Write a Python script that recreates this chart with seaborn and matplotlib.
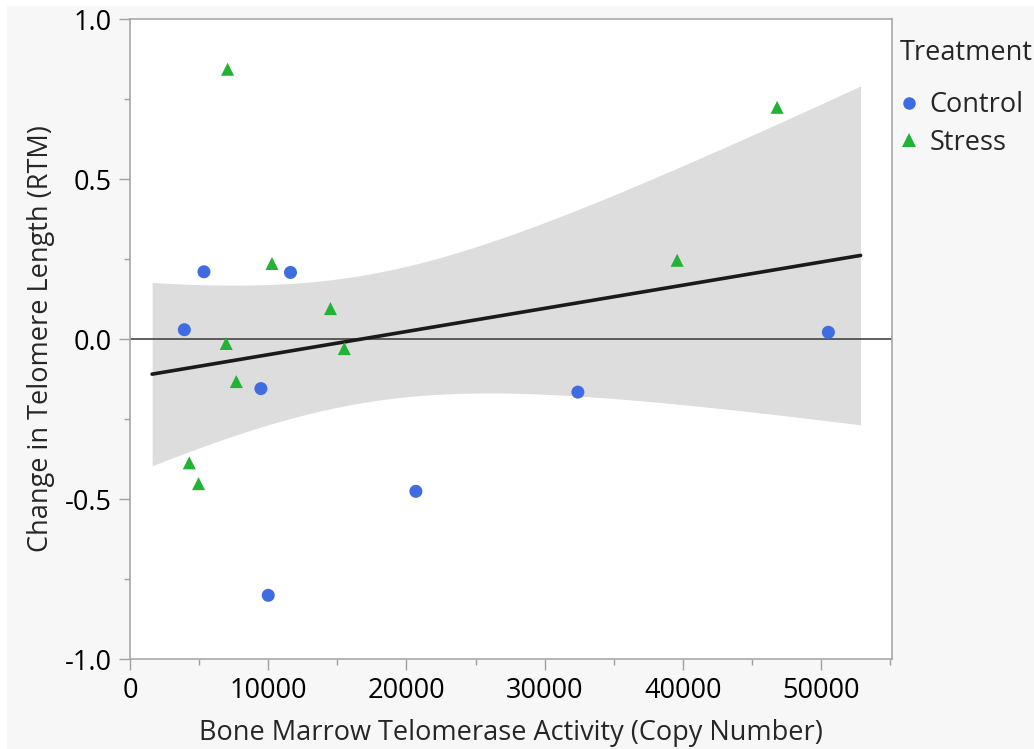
import numpy as np
import pandas as pd
import matplotlib
matplotlib.use("Agg")
import matplotlib.pyplot as plt
from matplotlib.lines import Line2D
from matplotlib.patches import Rectangle
import seaborn as sns

# ---- data ----
control_x = [3930, 5350, 11610, 9470, 10000, 20680, 32400, 50520]
control_y = [0.029, 0.210, 0.208, -0.155, -0.801, -0.476, -0.166, 0.021]
stress_x = [7060, 10270, 14500, 6960, 15500, 7690, 4290, 4960, 39580, 46810]
stress_y = [0.843, 0.236, 0.095, -0.014, -0.030, -0.133, -0.387, -0.452, 0.246, 0.724]
groups = ["Control", "Stress"]
x_ticks = [0, 10000, 20000, 30000, 40000, 50000]
y_ticks = [-1.0, -0.5, 0.0, 0.5, 1.0]

df = pd.DataFrame({
    "x": control_x + stress_x,
    "y": control_y + stress_y,
    "Treatment": ["Control"] * len(control_x) + ["Stress"] * len(stress_x),
})

sns.set_style("white")
plt.rcParams["font.family"] = ["Open Sans", "DejaVu Sans"]

BLUE = "#3F6CE0"
GREEN = "#21B334"
BG = "#F7F7F7"
FS = 19.5

fig = plt.figure(figsize=(10.34, 7.49), dpi=100)
fig.patch.set_facecolor("white")
fig.patches.append(Rectangle((7 / 1034, 0), 1, 1 - 6 / 749, transform=fig.transFigure,
                             facecolor=BG, edgecolor="none", zorder=-10))
ax = fig.add_axes([130 / 1034, 1 - 659 / 749, (891.7 - 130) / 1034, (659 - 19) / 749])
ax.set_facecolor("white")

# ---- linear fit with 95% confidence band over all points ----
X = df["x"].to_numpy(float)
Y = df["y"].to_numpy(float)
n = len(X)
slope, intercept = np.polyfit(X, Y, 1)
resid = Y - (slope * X + intercept)
s = np.sqrt(np.sum(resid ** 2) / (n - 2))
xbar = X.mean()
sxx = np.sum((X - xbar) ** 2)
pad = 0.05 * (X.max() - X.min())
xs = np.linspace(X.min() - pad, X.max() + pad, 200)
ys = slope * xs + intercept
t = 2.120  # t(0.975, df=16)
half = t * s * np.sqrt(1 / n + (xs - xbar) ** 2 / sxx)
ax.fill_between(xs, ys - half, ys + half, color="#DDDDDD", lw=0, zorder=1)
ax.axhline(0, color="#444444", lw=1.2, zorder=2)
ax.plot(xs, ys, color="#1a1a1a", lw=2.6, zorder=3)

sns.scatterplot(data=df, x="x", y="y", hue="Treatment", style="Treatment",
                palette={"Control": BLUE, "Stress": GREEN},
                markers={"Control": "o", "Stress": "^"},
                s=88, linewidth=0, legend=False, ax=ax, zorder=4)

ax.set_xlim(0, 55100)
ax.set_ylim(-1.0, 1.0)
ax.set_xticks(x_ticks)
ax.set_xticklabels([str(v) for v in x_ticks])
ax.set_yticks(y_ticks)
ax.set_yticklabels([f"{v:.1f}" for v in y_ticks])
ax.set_xticks(np.arange(5000, 55100, 10000), minor=True)
ax.set_yticks([-0.75, -0.25, 0.25, 0.75], minor=True)
ax.tick_params(axis="both", which="major", direction="out", length=8, width=1,
               color="#A0A0A0", labelsize=FS, labelcolor="black", pad=5)
ax.tick_params(axis="both", which="minor", direction="out", length=4, width=1,
               color="#A0A0A0")
ax.tick_params(bottom=True, left=True, which="both")
for side in ["left", "bottom", "top", "right"]:
    ax.spines[side].set_visible(True)
    ax.spines[side].set_color("#A8A8A8")
    ax.spines[side].set_linewidth(1.2)

ax.set_xlabel("Bone Marrow Telomerase Activity (Copy Number)", fontsize=FS, labelpad=10)
ax.set_ylabel("Change in Telomere Length (RTM)", fontsize=FS, labelpad=7)

fig.text(900 / 1034, 1 - 53 / 749, "Treatment", fontsize=FS, ha="left", va="center")
handles = [
    Line2D([], [], marker="o", linestyle="none", color=BLUE, markersize=9, markeredgewidth=0),
    Line2D([], [], marker="^", linestyle="none", color=GREEN, markersize=10, markeredgewidth=0),
]
leg = fig.legend(handles, groups, loc="upper left",
                 bbox_to_anchor=(898 / 1034, 1 - 91 / 749), frameon=False,
                 fontsize=FS, handlelength=0.8, handletextpad=0.35, labelspacing=0.36,
                 borderaxespad=0, borderpad=0.0)

fig.savefig("out.png", dpi=100, facecolor=fig.get_facecolor())
